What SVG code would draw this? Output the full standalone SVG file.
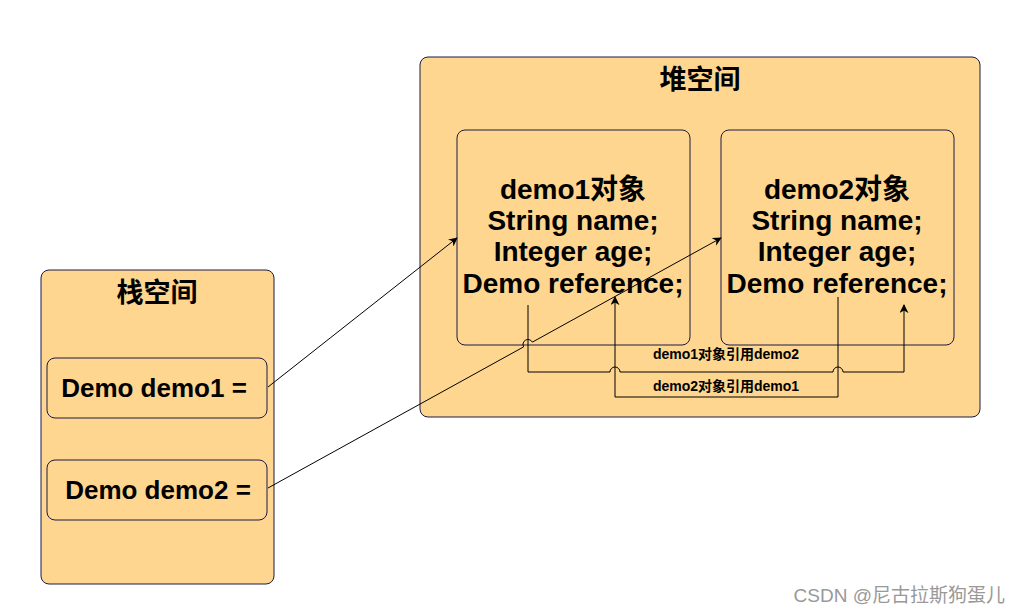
<svg xmlns="http://www.w3.org/2000/svg" width="1020" height="616" viewBox="0 0 1020 616">
<defs>
<marker id="arr" viewBox="0 0 10 10" refX="9" refY="5" markerWidth="9" markerHeight="9" markerUnits="userSpaceOnUse" orient="auto">
<path d="M0,0 L10,5 L0,10 L3,5 Z" fill="#000"/>
</marker>
</defs>
<style>
.box{fill:#FED68F;stroke:#1a1a48;stroke-width:1}
.t{font-family:"Liberation Sans","Noto Sans CJK SC",sans-serif;font-weight:bold;fill:#000;text-anchor:middle}
.big{font-size:28px}
.ttl{font-size:27px}
.var{font-size:26px}
.lbl{font-size:14px}
.c{fill:none;stroke:#000;stroke-width:1}
</style>
<rect width="1020" height="616" fill="#fff"/>
<g id="heap">
<rect class="box" x="420" y="57" width="560" height="360" rx="8"/>
<text class="t ttl" x="700" y="89">堆空间</text>
</g>
<g id="demo1obj">
<rect class="box" x="457" y="130" width="233" height="215" rx="8"/>
<text class="t big" x="573" y="199">demo1对象</text>
<text class="t big" x="573" y="230">String name;</text>
<text class="t big" x="573" y="261">Integer age;</text>
<text class="t big" x="573" y="293">Demo reference;</text>
</g>
<g id="demo2obj">
<rect class="box" x="721" y="130" width="233" height="215" rx="8"/>
<text class="t big" x="837" y="199">demo2对象</text>
<text class="t big" x="837" y="230">String name;</text>
<text class="t big" x="837" y="261">Integer age;</text>
<text class="t big" x="837" y="293">Demo reference;</text>
</g>
<g id="stack">
<rect class="box" x="41" y="270" width="233" height="314" rx="8"/>
<text class="t ttl" x="157" y="302">栈空间</text>
</g>
<g id="var1">
<rect class="box" x="47" y="358" width="220" height="60" rx="8"/>
<text class="t var" x="154" y="397">Demo demo1 =</text>
</g>
<g id="var2">
<rect class="box" x="47" y="460" width="220" height="60" rx="8"/>
<text class="t var" x="158" y="499">Demo demo2 =</text>
</g>
<g id="connectors">
<path class="c" d="M268,387 L457,238" marker-end="url(#arr)"/>
<path class="c" d="M268,488 L523.6,346.9 A5,5 0 0 1 532.4,342.1 L721,238" marker-end="url(#arr)"/>
<path class="c" d="M528,305 V372 H610 A5,5 0 0 1 620,372 H833 A5,5 0 0 1 843,372 H904 V305" marker-end="url(#arr)"/>
<path class="c" d="M838,297 V397 H615 V297" marker-end="url(#arr)"/>
<text class="t lbl" x="726" y="359">demo1对象引用demo2</text>
<text class="t lbl" x="726" y="391">demo2对象引用demo1</text>
</g>
<text x="1005" y="602" font-family="'Liberation Sans','Noto Sans CJK SC',sans-serif" font-size="19" fill="#999" text-anchor="end">CSDN @尼古拉斯狗蛋儿</text>
</svg>
